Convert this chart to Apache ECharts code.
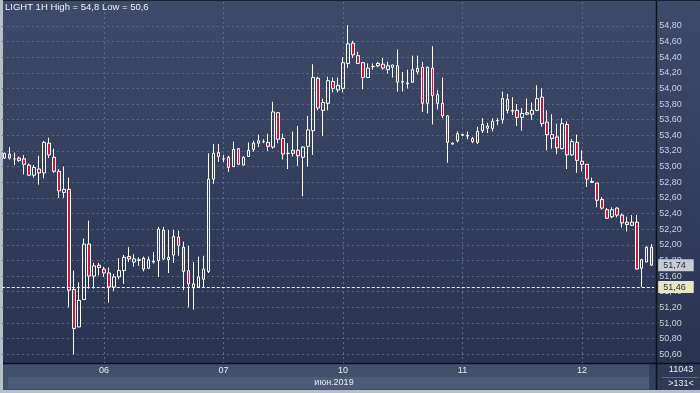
<!DOCTYPE html>
<html><head><meta charset="utf-8">
<script src="https://cdn.jsdelivr.net/npm/echarts@6/dist/echarts.min.js"></script>
<style>html,body{margin:0;padding:0;background:#2f3a57}#c{width:700px;height:393px}</style>
</head><body><div id="c"></div>
<script>
const title = 'LIGHT 1H High = 54,8 Low = 50,6';
const opens = [53.11,53.16,53.10,53.11,53.10,53.02,52.89,52.97,52.92,53.30,53.12,52.94,52.67,52.71,51.43,50.95,51.30,52.01,51.60,51.74,
51.69,51.64,51.46,51.59,51.67,51.85,51.78,51.81,51.83,51.70,51.79,51.80,52.19,51.81,51.87,52.10,51.97,51.67,51.50,51.46,51.56,51.66,52.84,53.18,
53.10,53.12,53.00,53.23,53.02,53.13,53.22,53.30,53.32,53.31,53.25,53.69,53.36,53.17,53.17,53.21,53.12,53.26,53.46,54.13,53.72,53.81,54.09,53.98,
54.00,54.32,54.58,54.42,54.33,54.14,54.28,54.29,54.31,54.24,54.27,54.29,54.09,54.07,54.08,54.21,54.27,53.81,54.26,53.92,53.81,53.65,53.30,53.33,
53.41,53.40,53.36,53.31,53.46,53.52,53.49,53.59,53.60,53.86,53.72,53.72,53.63,53.69,53.67,53.72,53.89,53.57,53.41,53.38,53.23,53.54,53.15,53.31,
53.07,53.03,52.81,52.79,52.58,52.45,52.36,52.47,52.38,52.29,52.25,52.29,51.70,51.78,51.97];
const closes = [53.17,53.11,53.10,53.08,53.03,52.89,52.99,52.92,53.31,53.15,52.94,52.69,52.71,51.42,50.93,51.29,52.01,51.60,51.73,51.71,
51.64,51.46,51.59,51.67,51.84,51.82,51.82,51.80,51.69,51.81,51.78,52.20,51.82,51.84,52.11,51.99,51.66,51.50,51.45,51.59,51.69,52.84,53.17,53.13,
53.10,52.99,53.22,53.03,53.12,53.21,53.30,53.33,53.32,53.26,53.70,53.35,53.16,53.17,53.21,53.14,53.25,53.47,54.14,53.75,53.82,54.10,54.00,54.04,
54.33,54.57,54.43,54.32,54.14,54.26,54.28,54.32,54.26,54.29,54.30,54.08,54.08,54.06,54.24,54.26,53.81,54.27,53.91,53.81,53.65,53.31,53.29,53.42,
53.40,53.39,53.32,53.45,53.54,53.49,53.58,53.59,53.87,53.72,53.71,53.63,53.68,53.67,53.72,53.87,53.55,53.41,53.36,53.24,53.55,53.15,53.32,53.08,
53.03,52.84,52.80,52.57,52.47,52.34,52.45,52.38,52.28,52.26,52.29,51.69,51.81,51.97,51.74];
const lows = [53.10,53.09,53.02,53.06,52.90,52.88,52.86,52.77,52.85,53.11,52.92,52.60,52.60,51.20,50.60,50.95,51.30,51.44,51.44,51.61,
51.59,51.26,51.41,51.56,51.50,51.78,51.72,51.73,51.66,51.69,51.76,51.59,51.81,51.64,51.77,51.86,51.42,51.20,51.17,51.45,51.46,51.64,52.78,53.06,
53.06,52.93,53.00,53.02,53.02,53.13,53.19,53.25,53.30,53.20,53.23,53.30,53.09,52.97,53.13,53.01,52.62,53.00,53.15,53.72,53.39,53.72,53.95,53.95,
53.95,54.26,54.39,54.32,53.99,54.14,54.24,54.27,54.24,54.19,54.14,53.96,53.96,54.00,54.07,54.18,53.70,53.68,53.54,53.73,53.62,53.05,53.28,53.31,
53.39,53.35,53.30,53.29,53.43,53.43,53.45,53.53,53.55,53.68,53.66,53.52,53.46,53.66,53.60,53.71,53.51,53.21,53.23,53.16,53.22,52.97,53.14,52.92,
52.94,52.74,52.79,52.48,52.45,52.33,52.34,52.35,52.22,52.17,52.24,51.69,51.46,51.78,51.73];
const highs = [53.18,53.25,53.18,53.13,53.15,53.04,53.02,53.14,53.33,53.37,53.23,52.97,53.00,52.86,51.67,51.52,52.08,52.31,51.77,51.77,
51.72,51.71,51.63,51.83,51.87,51.97,51.88,51.84,51.85,51.85,51.91,52.23,52.23,52.19,52.19,52.18,52.04,51.99,51.78,51.85,51.86,53.17,53.29,53.29,
53.15,53.14,53.32,53.24,53.13,53.31,53.33,53.41,53.35,53.42,53.83,53.70,53.42,53.30,53.45,53.52,53.26,53.65,54.31,54.15,53.87,54.15,54.14,54.14,
54.40,54.81,54.61,54.47,54.34,54.32,54.32,54.34,54.39,54.34,54.30,54.50,54.21,54.24,54.42,54.42,54.34,54.28,54.54,53.98,54.14,53.66,53.31,53.45,
53.42,53.45,53.38,53.51,53.62,53.56,53.62,53.62,53.96,53.93,53.89,53.80,53.75,53.87,53.82,54.04,54.00,53.72,53.67,53.55,53.62,53.58,53.35,53.41,
53.21,53.03,52.86,52.79,52.61,52.47,52.48,52.48,52.40,52.36,52.38,52.38,51.82,51.98,52.01];
const dayLabels = ['06','07','10','11','12'];
const dayStartIdx = [20,44,68,92,116];
const monthLabel = 'июн.2019';
const yMin = 50.6, yMax = 54.8, yStep = 0.2;
const levelLine = 51.46;
const barsTotal = '11043', barsShown = '>131<';

const categories = opens.map((_, i) => {
  let d = '05';
  dayStartIdx.forEach((s, k) => { if (i >= s) d = dayLabels[k]; });
  return d + '#' + i;
});
const candles = opens.map((o, i) => [o, closes[i], lows[i], highs[i]]);
const lastClose = closes[closes.length - 1];
const fmt = v => Number(v).toFixed(2).replace('.', ',');
const isDay = i => dayStartIdx.indexOf(i) >= 0;

const L = 1.8, W = 652.4;
const FONT = 'Liberation Sans';
const chart = echarts.init(document.getElementById('c'), null, {renderer: 'canvas'});
chart.setOption({
  animation: false,
  backgroundColor: {type: 'linear', x: 0, y: 0, x2: 0, y2: 1,
    colorStops: [{offset: 0, color: '#3e4a69'}, {offset: 1, color: '#28324f'}]},
  textStyle: {fontFamily: FONT},
  grid: [
    {left: L, width: W, top: 2, height: 361},
    {left: L, width: W, top: 25.9, height: 328.4}
  ],
  xAxis: [
    {type: 'category', gridIndex: 0, data: categories, boundaryGap: true,
      axisLine: {show: false}, axisTick: {show: false},
      axisLabel: {interval: (i) => isDay(i), formatter: (v, i) => dayLabels[dayStartIdx.indexOf(i)] || '',
        color: '#e6eaf2', fontSize: 9, margin: 3, fontFamily: FONT},
      splitLine: {show: true, interval: (i) => isDay(i), alignWithLabel: true,
        lineStyle: {color: '#5b6988', type: [2, 3], width: 1}}},
    {type: 'category', gridIndex: 1, data: categories, boundaryGap: true, show: false}
  ],
  yAxis: [
    {type: 'value', gridIndex: 0, show: false, splitLine: {show: false}},
    {type: 'value', gridIndex: 1, position: 'right', min: yMin, max: yMax, interval: yStep,
      axisLine: {show: false}, axisTick: {show: false},
      axisLabel: {formatter: fmt, color: '#c9d0de', fontSize: 9, margin: 5, fontFamily: FONT},
      splitLine: {lineStyle: {color: '#5b6988', type: [2, 3], width: 1}}}
  ],
  series: [{
    type: 'candlestick', xAxisIndex: 1, yAxisIndex: 1, data: candles, barWidth: 3,
    itemStyle: {color: 'rgba(0,0,0,0)', color0: '#c8173d', borderColor: '#ffffff', borderColor0: '#ffffff', borderWidth: 1},
    markLine: {
      symbol: ['none', 'none'], silent: true, animation: false,
      data: [
        {yAxis: lastClose, lineStyle: {color: 'rgba(0,0,0,0)', width: 0},
          label: {show: true, position: 'end', formatter: fmt(lastClose), backgroundColor: '#c6cbd4',
            color: '#1e2533', padding: [2, 8, 1, 5], fontSize: 9, distance: 4, fontFamily: FONT}},
        {yAxis: levelLine, lineStyle: {color: '#ffffff', type: [3, 2], width: 1, opacity: 1},
          label: {show: true, position: 'end', formatter: fmt(levelLine), backgroundColor: '#e9e6c6',
            color: '#1e2533', padding: [2, 8, 1, 5], fontSize: 9, distance: 4, fontFamily: FONT}}
      ]
    }
  }],
  graphic: [
    {type: 'rect', shape: {x: 0, y: 364, width: 656, height: 26}, style: {fill: '#43506c'}, z: -1, silent: true},
    {type: 'rect', shape: {x: 8, y: 377, width: 641, height: 12}, style: {fill: '#4d5b78'}, z: -1, silent: true},
    {type: 'rect', shape: {x: 649, y: 364, width: 7, height: 26}, style: {fill: '#343f5a'}, z: -1, silent: true},
    {type: 'rect', shape: {x: 657, y: 364, width: 43, height: 26}, style: {fill: '#2f3a55'}, z: -1, silent: true},
    {type: 'line', shape: {x1: 662, y1: 377.5, x2: 698, y2: 377.5}, style: {stroke: '#5b6988', lineWidth: 1}, silent: true},
    {type: 'line', shape: {x1: 0, y1: 363.5, x2: 700, y2: 363.5}, style: {stroke: '#0d1220', lineWidth: 1.5}, silent: true},
    {type: 'line', shape: {x1: 656.5, y1: 0, x2: 656.5, y2: 390}, style: {stroke: '#0d1220', lineWidth: 1.5}, silent: true},
    {type: 'line', shape: {x1: 0, y1: 0.5, x2: 700, y2: 0.5}, style: {stroke: '#1a2136', lineWidth: 1}, silent: true},
    {type: 'rect', shape: {x: 0, y: 0, width: 3, height: 393}, style: {fill: '#b7bfca'}, silent: true},
    {type: 'rect', shape: {x: 0, y: 390, width: 700, height: 3}, style: {fill: '#b7bfca'}, silent: true},
    {type: 'text', x: 5, y: 2, style: {text: title, fill: '#eef1f6', font: '9.5px "Liberation Sans"'}, silent: true},
    {type: 'text', x: 334, y: 383, style: {text: monthLabel, fill: '#e6eaf2', font: '9px "Liberation Sans"', textAlign: 'center', textVerticalAlign: 'middle'}, silent: true},
    {type: 'text', x: 681, y: 370, style: {text: barsTotal, fill: '#e6eaf2', font: '9px "Liberation Sans"', textAlign: 'center', textVerticalAlign: 'middle'}, silent: true},
    {type: 'text', x: 681, y: 384, style: {text: barsShown, fill: '#e6eaf2', font: '9px "Liberation Sans"', textAlign: 'center', textVerticalAlign: 'middle'}, silent: true}
  ]
});
</script></body></html>
